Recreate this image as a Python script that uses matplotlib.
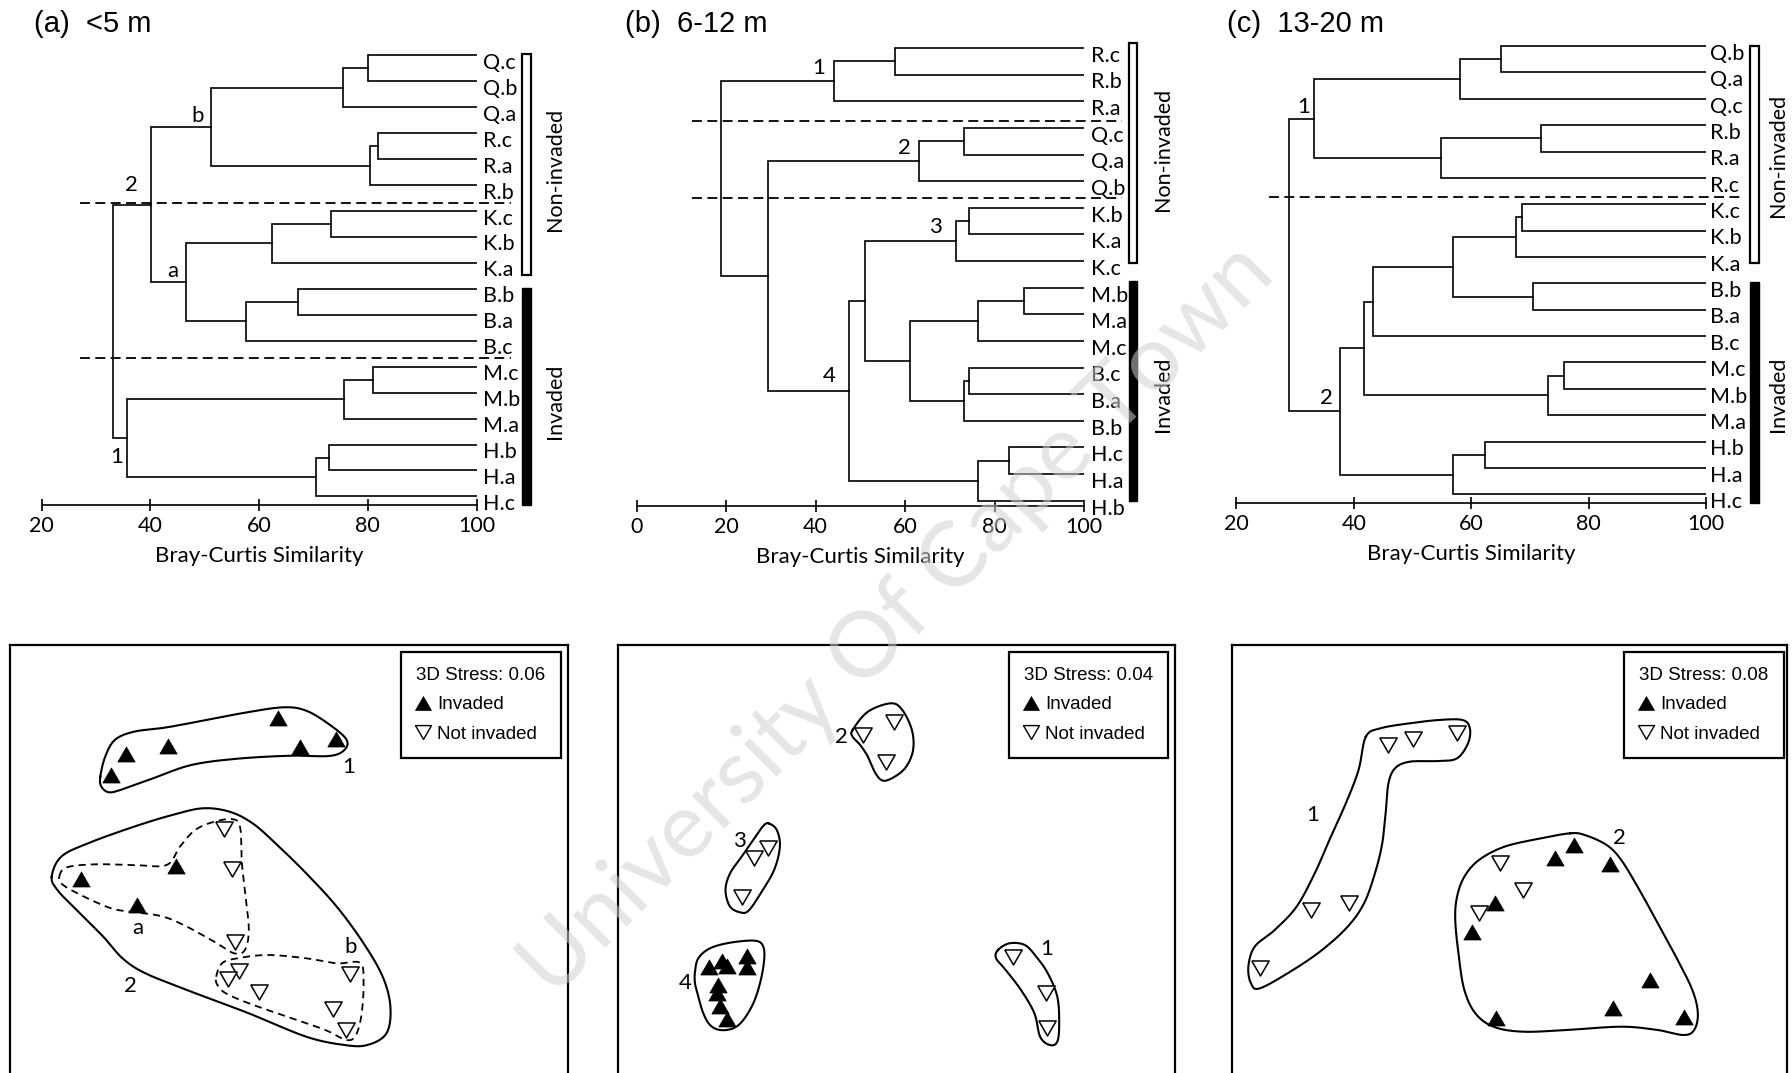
import numpy as np
import matplotlib
matplotlib.use('Agg')
import matplotlib.pyplot as plt
from matplotlib.lines import Line2D
from matplotlib.patches import Rectangle

plt.rcParams['font.family'] = ['Lato', 'DejaVu Sans']

# ---------------- dendrograms ----------------
# leaves listed top to bottom; merges are (child, child, similarity),
# children 0..17 are leaves, 18 onwards are the earlier merges
leaves_a = ['Q.c', 'Q.b', 'Q.a', 'R.c', 'R.a', 'R.b', 'K.c', 'K.b', 'K.a',
            'B.b', 'B.a', 'B.c', 'M.c', 'M.b', 'M.a', 'H.b', 'H.a', 'H.c']
merges_a = [(0, 1, 80.0), (18, 2, 75.4), (3, 4, 81.9), (20, 5, 80.4), (19, 21, 51.1),
            (6, 7, 73.3), (23, 8, 62.4), (9, 10, 67.1), (25, 11, 57.6), (24, 26, 46.5),
            (22, 27, 40.2), (12, 13, 80.9), (29, 14, 75.7), (15, 16, 72.8), (31, 17, 70.5),
            (30, 32, 35.8), (28, 33, 33.2)]
nodes_a = [('b', 48.8, 2.32), ('2', 36.6, 4.98), ('a', 44.2, 8.32), ('1', 33.8, 15.47)]

leaves_b = ['R.c', 'R.b', 'R.a', 'Q.c', 'Q.a', 'Q.b', 'K.b', 'K.a', 'K.c',
            'M.b', 'M.a', 'M.c', 'B.c', 'B.a', 'B.b', 'H.c', 'H.a', 'H.b']
merges_b = [(0, 1, 57.8), (18, 2, 44.1), (3, 4, 73.1), (20, 5, 63.2), (6, 7, 74.4),
            (22, 8, 71.4), (9, 10, 86.6), (24, 11, 76.3), (12, 13, 74.2), (26, 14, 73.1),
            (25, 27, 61.1), (23, 28, 51.1), (15, 16, 83.3), (30, 17, 76.3), (29, 31, 47.5),
            (21, 32, 29.4), (19, 33, 18.9)]
nodes_b = [('1', 40.6, 0.76), ('2', 59.8, 3.74), ('3', 66.8, 6.72), ('4', 43.1, 12.3)]

leaves_c = ['Q.b', 'Q.a', 'Q.c', 'R.b', 'R.a', 'R.c', 'K.c', 'K.b', 'K.a',
            'B.b', 'B.a', 'B.c', 'M.c', 'M.b', 'M.a', 'H.b', 'H.a', 'H.c']
merges_c = [(0, 1, 65.0), (18, 2, 58.1), (3, 4, 71.8), (20, 5, 54.9), (19, 21, 33.2),
            (6, 7, 68.7), (23, 8, 67.6), (9, 10, 70.5), (24, 25, 56.8), (26, 11, 43.3),
            (12, 13, 75.7), (28, 14, 73.0), (27, 29, 41.7), (15, 16, 62.3), (31, 17, 56.9),
            (30, 32, 37.6), (22, 33, 28.9)]
nodes_c = [('1', 31.4, 2.31), ('2', 35.3, 13.33)]

# ---------------- nMDS ordinations ----------------
inv_a = [(-1.779, 0.85), (-1.626, 1.06), (-1.205, 1.14), (-0.107, 1.417), (0.115, 1.133),
         (0.471, 1.207), (-2.078, -0.193), (-1.129, -0.06), (-1.523, -0.45)]
non_a = [(-0.65, 0.307), (-0.574, -0.093), (-0.539, -0.817), (-0.497, -1.107), (-0.612, -1.19),
         (-0.298, -1.323), (0.613, -1.14), (0.441, -1.493), (0.574, -1.70)]
hull_a1 = [(-1.886, 0.833), (-1.837, 1.033), (-1.741, 1.2), (-1.55, 1.283), (-1.243, 1.323),
           (-0.861, 1.393), (-0.44, 1.473), (-0.057, 1.527), (0.173, 1.493), (0.402, 1.357),
           (0.574, 1.207), (0.555, 1.10), (0.402, 1.04), (0.02, 1.043), (-0.516, 1.013),
           (-0.976, 0.95), (-1.358, 0.817), (-1.664, 0.707), (-1.798, 0.677), (-1.875, 0.733)]
hull_a2 = [(-2.372, -0.167), (-2.277, 0.033), (-2.009, 0.167), (-1.55, 0.333), (-1.167, 0.45),
           (-0.861, 0.517), (-0.593, 0.483), (-0.363, 0.367), (-0.134, 0.167), (0.173, -0.133),
           (0.479, -0.467), (0.747, -0.833), (0.938, -1.167), (1.015, -1.467), (0.976, -1.733),
           (0.785, -1.85), (0.555, -1.85), (0.173, -1.767), (-0.401, -1.533), (-0.976, -1.317),
           (-1.435, -1.133), (-1.664, -0.983), (-1.856, -0.767), (-2.124, -0.5), (-2.315, -0.3)]
hull_aa = [(-2.296, -0.167), (-2.219, -0.073), (-1.932, -0.043), (-1.55, -0.05), (-1.224, -0.05),
           (-1.09, 0.133), (-0.937, 0.30), (-0.746, 0.383), (-0.555, 0.407), (-0.486, 0.317),
           (-0.47, -0.033), (-0.432, -0.367), (-0.401, -0.70), (-0.44, -0.90), (-0.547, -0.933),
           (-0.746, -0.817), (-1.052, -0.65), (-1.282, -0.56), (-1.588, -0.517), (-1.779, -0.483),
           (-2.047, -0.367), (-2.258, -0.25)]
hull_ab = [(-0.727, -1.167), (-0.669, -1.033), (-0.516, -0.983), (-0.21, -0.95), (0.173, -0.983),
           (0.479, -1.033), (0.708, -1.027), (0.747, -1.20), (0.728, -1.533), (0.67, -1.75),
           (0.574, -1.80), (0.364, -1.70), (-0.019, -1.567), (-0.401, -1.433), (-0.631, -1.333),
           (-0.715, -1.25)]
tags_a = [('1', 0.594, 0.933), ('a', -1.511, -0.683), ('b', 0.613, -0.867), ('2', -1.588, -1.26)]

inv_b = [(-1.875, -1.073), (-1.751, -1.007), (-1.701, -1.06), (-1.495, -0.96), (-1.495, -1.073),
         (-1.785, -1.25), (-1.795, -1.333), (-1.768, -1.46), (-1.695, -1.593)]
non_b = [(-0.335, 1.25), (-0.029, 1.383), (-0.105, 0.983), (-1.284, 0.117), (-1.426, 0.017),
         (-1.552, -0.367), (1.158, -0.967), (1.49, -1.333), (1.502, -1.683)]
hull_b1 = [(1.012, -0.90), (1.127, -0.833), (1.28, -0.85), (1.395, -0.967), (1.51, -1.133),
           (1.605, -1.367), (1.624, -1.633), (1.605, -1.817), (1.529, -1.85), (1.433, -1.767),
           (1.376, -1.533), (1.242, -1.30), (1.089, -1.10), (0.993, -0.983)]
hull_b2 = [(-0.442, 1.30), (-0.289, 1.483), (-0.06, 1.567), (0.055, 1.50), (0.151, 1.30),
           (0.163, 1.10), (0.094, 0.933), (-0.021, 0.833), (-0.136, 0.793), (-0.213, 0.867),
           (-0.289, 1.033), (-0.366, 1.15), (-0.442, 1.233)]
hull_b3 = [(-1.284, 0.367), (-1.20, 0.30), (-1.169, 0.133), (-1.227, -0.10), (-1.361, -0.333),
           (-1.476, -0.50), (-1.552, -0.527), (-1.667, -0.467), (-1.713, -0.30), (-1.667, -0.133),
           (-1.552, 0.033), (-1.437, 0.20), (-1.342, 0.333)]
hull_b4 = [(-2.018, -1.117), (-1.985, -0.983), (-1.868, -0.883), (-1.668, -0.827), (-1.418, -0.807),
           (-1.335, -0.867), (-1.328, -1.017), (-1.368, -1.233), (-1.435, -1.433), (-1.535, -1.60),
           (-1.635, -1.683), (-1.768, -1.70), (-1.868, -1.65), (-1.935, -1.533), (-1.985, -1.367),
           (-2.018, -1.233)]
tags_b = [('1', 1.502, -0.893), ('2', -0.557, 1.233), ('3', -1.571, 0.193), ('4', -2.118, -1.233)]

inv_c = [(0.642, 0.15), (0.452, 0.017), (0.999, -0.043), (-0.143, -0.433), (-0.373, -0.717),
         (1.40, -1.20), (1.036, -1.483), (-0.132, -1.583), (1.743, -1.567)]
non_c = [(-1.212, 1.15), (-0.964, 1.207), (-0.526, 1.267), (-1.985, -0.50), (-1.602, -0.433),
         (-2.496, -1.083), (-0.095, -0.033), (0.131, -0.30), (-0.307, -0.533)]
hull_c1 = [(-1.438, 1.233), (-1.292, 1.317), (-1.0, 1.367), (-0.708, 1.40), (-0.471, 1.40),
           (-0.398, 1.317), (-0.416, 1.167), (-0.526, 1.017), (-0.708, 0.99), (-1.0, 0.983),
           (-1.146, 0.917), (-1.212, 0.767), (-1.237, 0.50), (-1.274, 0.167), (-1.347, -0.133),
           (-1.456, -0.433), (-1.62, -0.667), (-1.876, -0.90), (-2.167, -1.10), (-2.496, -1.283),
           (-2.587, -1.233), (-2.613, -1.067), (-2.55, -0.867), (-2.35, -0.70), (-2.131, -0.467),
           (-1.949, -0.133), (-1.803, 0.20), (-1.638, 0.567), (-1.511, 0.90)]
hull_c2 = [(0.605, 0.267), (0.751, 0.25), (0.97, 0.15), (1.116, 0.0), (1.298, -0.30),
           (1.481, -0.633), (1.663, -0.967), (1.827, -1.30), (1.882, -1.533), (1.845, -1.70),
           (1.736, -1.75), (1.481, -1.70), (1.116, -1.667), (0.569, -1.70), (0.131, -1.717),
           (-0.161, -1.667), (-0.343, -1.533), (-0.453, -1.30), (-0.508, -0.967), (-0.544, -0.60),
           (-0.526, -0.367), (-0.453, -0.167), (-0.307, 0.0), (-0.052, 0.133), (0.313, 0.217)]
tags_c = [('1', -1.967, 0.45), ('2', 1.098, 0.217)]

stress = ['0.06', '0.04', '0.08']

W, H = 1792, 1073
fig = plt.figure(figsize=(W / 100, H / 100), dpi=100)

ARIAL = 'Liberation Sans'
TRI_UP = [(-1, -0.866), (1, -0.866), (0, 0.866), (-1, -0.866)]
TRI_DN = [(-1, 0.866), (1, 0.866), (0, -0.866), (-1, 0.866)]


def px_axes(left, top, right, bottom):
    return fig.add_axes([left / W, 1 - bottom / H, (right - left) / W, (bottom - top) / H])


def closed_curve(pts, n=16):
    # periodic Catmull-Rom through the outline vertices
    p = np.asarray(pts, float)
    k = len(p)
    t = np.linspace(0, 1, n, endpoint=False)[:, None]
    segs = []
    for i in range(k):
        p0, p1, p2, p3 = p[i - 1], p[i], p[(i + 1) % k], p[(i + 2) % k]
        segs.append(0.5 * (2 * p1 + (p2 - p0) * t + (2 * p0 - 5 * p1 + 4 * p2 - p3) * t ** 2
                           + (3 * p1 - p0 - 3 * p2 + p3) * t ** 3))
    c = np.vstack(segs)
    return np.vstack([c, c[:1]])


def dendro(box, xlim, ylim, leaves, merges, nodes, cuts, cut_span, bar_x,
           white_rows, black_rows, group_x, group_rows, label_x):
    ax = px_axes(*box)
    n = len(leaves)
    ypos = [float(i) for i in range(n)]
    xpos = [100.0] * n
    for c1, c2, h in merges:
        ax.plot([xpos[c1], h, h, xpos[c2]], [ypos[c1], ypos[c1], ypos[c2], ypos[c2]],
                color='black', lw=1.2, solid_joinstyle='miter')
        ypos.append((ypos[c1] + ypos[c2]) / 2)
        xpos.append(h)
    for i, name in enumerate(leaves):
        ax.text(label_x, i + 0.52, name, ha='left', va='baseline', fontsize=15.5, clip_on=False)
    for lab, x, y in nodes:
        ax.text(x, y, lab, ha='center', va='center', fontsize=16)
    for y in cuts:
        ax.plot(cut_span, [y, y], color='black', lw=1.3, ls=(0, (5.5, 3)), clip_on=False)
    ax.add_patch(Rectangle((bar_x[0], white_rows[0]), bar_x[1] - bar_x[0],
                           white_rows[1] - white_rows[0], fc='white', ec='black',
                           lw=1.6, clip_on=False))
    ax.add_patch(Rectangle((bar_x[0], black_rows[0]), bar_x[1] - bar_x[0],
                           black_rows[1] - black_rows[0], fc='black', ec='black',
                           lw=1.0, clip_on=False))
    ax.text(group_x, group_rows[0], 'Non-invaded', rotation=90, ha='center', va='center',
            fontsize=15.5, clip_on=False)
    ax.text(group_x, group_rows[1], 'Invaded', rotation=90, ha='center', va='center',
            fontsize=15.5, clip_on=False)
    ax.set_xlim(*xlim)
    ax.set_ylim(*ylim)
    ax.set_yticks([])
    ax.set_xticks([t for t in (0, 20, 40, 60, 80, 100) if t >= xlim[0]])
    for s in ('left', 'right', 'top'):
        ax.spines[s].set_visible(False)
    ax.spines['bottom'].set_bounds(xlim[0], 100)
    ax.spines['bottom'].set_linewidth(1.2)
    ax.tick_params(axis='x', direction='inout', length=8, width=1.2, pad=4, labelsize=15.5)
    ax.set_xlabel('Bray-Curtis Similarity', fontsize=16, labelpad=7)
    ax.patch.set_visible(False)
    return ax


def nmds(left, right, inv, non, solid, dashed, tags, st, leg_right):
    ax = px_axes(left, 645, right, 1100)
    cx = (left + right) / 2
    ax.set_xlim((left - cx) / 100, (right - cx) / 100)
    ax.set_ylim(-2.40, 2.15)
    ax.set_xticks([])
    ax.set_yticks([])
    for s in ax.spines.values():
        s.set_linewidth(1.6)
    for pts in solid:
        c = closed_curve(pts)
        ax.plot(c[:, 0], c[:, 1], color='black', lw=1.5)
    for pts in dashed:
        c = closed_curve(pts)
        ax.plot(c[:, 0], c[:, 1], color='black', lw=1.3, ls=(0, (4, 2.8)))
    ix, iy = zip(*inv)
    nx, ny = zip(*non)
    ax.plot(nx, ny, ls='none', marker=TRI_DN, ms=12.5, mfc='white', mec='black', mew=1.1, zorder=4)
    ax.plot(ix, iy, ls='none', marker=TRI_UP, ms=12.5, mfc='black', mec='black', mew=0.5, zorder=5)
    for lab, x, y in tags:
        ax.text(x, y, lab, ha='center', va='center', fontsize=16)
    handles = [Line2D([], [], ls='none', marker=TRI_UP, ms=11.5, mfc='black', mec='black', mew=0.5),
               Line2D([], [], ls='none', marker=TRI_DN, ms=11.5, mfc='white', mec='black', mew=1.0)]
    leg = ax.legend(handles, ['Invaded', 'Not invaded'], title='3D Stress: ' + st,
                    alignment='left', loc='upper right',
                    bbox_to_anchor=(leg_right / W, 1 - 651.7 / H), bbox_transform=fig.transFigure,
                    borderaxespad=0, frameon=True, fancybox=False, edgecolor='black',
                    framealpha=1, prop={'family': ARIAL, 'size': 13.5},
                    title_fontproperties={'family': ARIAL, 'size': 13.5},
                    borderpad=0.8, handlelength=0.75, handletextpad=0.35, labelspacing=0.66)
    leg.get_frame().set_linewidth(1.6)
    return ax


dendro((41.5, 42.4, 476.5, 505), (20, 100), (17.33, -0.5), leaves_a, merges_a, nodes_a,
       [5.69, 11.66], (27.15, 106.3), (108.44, 110.06), (-0.05, 8.45), (8.97, 17.33),
       114.5, (4.41, 13.35), 101.2)
dendro((636.7, 34.7, 1084, 506), (0, 100), (17.2, -0.5), leaves_b, merges_b, nodes_b,
       [2.73, 5.64], (12.3, 108.6), (110.1, 111.8), (-0.17, 8.06), (8.76, 17.0),
       117.6, (3.81, 13.02), 101.6)
dendro((1236.4, 32.9, 1706.3, 503), (20, 100), (17.33, -0.5), leaves_c, merges_c, nodes_c,
       [5.71], (25.5, 106.0), (107.4, 108.9), (0.0, 8.21), (8.95, 17.34),
       112.2, (4.13, 13.2), 100.6)

fig.text(34.4 / W, 1 - 24 / H, '(a)  <5 m', family=ARIAL, fontsize=21, ha='left', va='center')
fig.text(624.9 / W, 1 - 24 / H, '(b)  6-12 m', family=ARIAL, fontsize=21, ha='left', va='center')
fig.text(1226.8 / W, 1 - 24 / H, '(c)  13-20 m', family=ARIAL, fontsize=21, ha='left', va='center')

nmds(10.3, 567.5, inv_a, non_a, [hull_a1, hull_a2], [hull_aa, hull_ab], tags_a, stress[0], 560.7)
nmds(618.4, 1175.2, inv_b, non_b, [hull_b1, hull_b2, hull_b3, hull_b4], [], tags_b, stress[1], 1168.3)
nmds(1232.0, 1787.3, inv_c, non_c, [hull_c1, hull_c2], [], tags_c, stress[2], 1783.5)

fig.text(897 / W, 1 - 620 / H, 'University Of Cape Town', rotation=45, rotation_mode='anchor',
         ha='center', va='center', fontsize=66, weight='normal', color='0.82', alpha=0.55, zorder=10)

fig.savefig('out.png', dpi=100)
